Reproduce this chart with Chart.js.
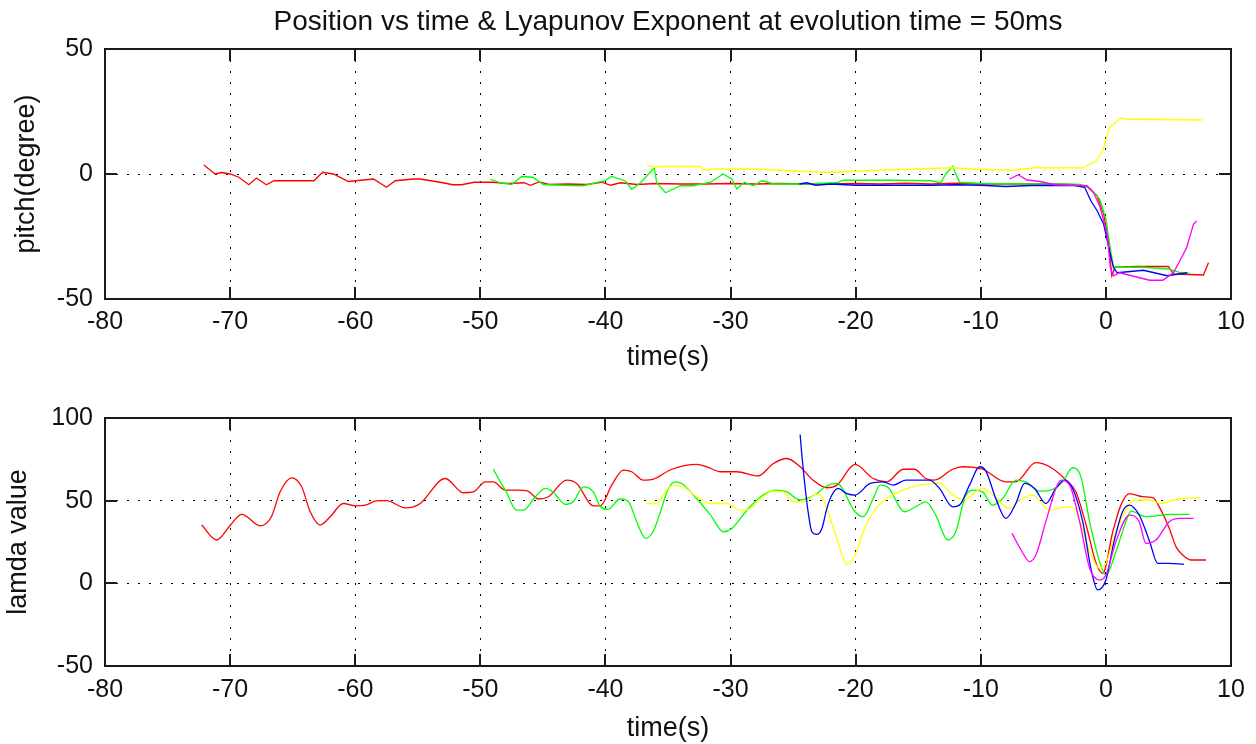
<!DOCTYPE html>
<html><head><meta charset="utf-8">
<script src="https://cdn.jsdelivr.net/npm/chart.js@4.4.1/dist/chart.umd.min.js"></script>
<style>
html,body{margin:0;padding:0;background:#fff;}
#wrap{position:relative;width:1256px;height:744px;overflow:hidden;background:#fff}
#c1{position:absolute;left:0;top:0;}
#c2{position:absolute;left:0;top:380px;}
</style></head><body>
<div id="wrap"><canvas id="c1" width="1256" height="380"></canvas><canvas id="c2" width="1256" height="364"></canvas></div>
<script>
// ---------- DATA ----------
const titleText = 'Position vs time & Lyapunov Exponent at evolution time = 50ms';
const xTicks = [-80,-70,-60,-50,-40,-30,-20,-10,0,10];
const pitchTicks = [-50,0,50];
const lamdaTicks = [-50,0,50,100];

// pitch (degree) vs time (s): [t, value]
const pitchRed = [[-72.1,3.6],[-71.7,2],[-71.2,0],[-70.7,0.6],[-70.0,0],[-69.3,-1.3],[-68.5,-4.3],[-67.9,-1.6],[-67.1,-4.3],[-66.5,-2.7],[-63.3,-2.7],[-62.6,0.7],[-61.75,0],[-60.55,-3],[-58.55,-2],[-57.5,-5.3],[-56.8,-2.7],[-55.35,-2],[-54.8,-2],[-53.0,-3.5],[-52.2,-4.3],[-51.5,-4.3],[-50.5,-3.3],[-49,-3.3],[-47.8,-3.8],[-46.5,-3.5],[-46.0,-4.5],[-45.3,-3.2],[-44.5,-4.2],[-43,-4],[-41.5,-4.2],[-40.3,-3.3],[-39.6,-4.5],[-38.8,-3.5],[-37.5,-4.2],[-36,-3.8],[-34,-4],[-32,-4],[-30,-3.8],[-28,-4],[-26,-3.8],[-24,-4],[-22,-4],[-20,-3.8],[-18,-4],[-16,-3.7],[-14,-4],[-12,-3.7],[-10,-4],[-8,-4],[-6,-4],[-4,-4],[-2.3,-4.3],[-1.5,-5],[-0.7,-8.7],[-0.18,-16],[0.2,-26.7],[0.47,-40.7],[0.75,-37.3],[2.5,-37],[5.0,-37],[5.4,-40],[7.8,-40.4],[8.2,-35.5]];
const pitchGreen = [[-49.2,-2.1],[-48.4,-3.5],[-47.5,-4.2],[-46.7,-1],[-45.8,-1.3],[-44.96,-4.2],[-43.5,-4.5],[-41.8,-4.7],[-40.1,-2.8],[-39.5,-1],[-38.4,-2.8],[-37.9,-6.1],[-37.2,-3.5],[-36.4,0.8],[-36.1,2.5],[-35.9,-3.5],[-35.2,-7.5],[-34,-4.7],[-33,-4.7],[-31.6,-3.3],[-30.6,0],[-29.9,-2],[-29.5,-6],[-28.9,-3.3],[-28.2,-4.7],[-27.5,-2.7],[-26.5,-4],[-24,-4],[-21.5,-3.5],[-21,-2.5],[-17,-2.5],[-14,-2.7],[-13.2,-3.5],[-12.8,0],[-12.25,3],[-11.7,-3.3],[-10,-3.8],[-7,-4],[-4,-4],[-2,-4.2],[-1.2,-6],[-0.5,-10],[0,-18],[0.3,-28],[0.6,-37.3],[3,-37.3],[5,-38],[6,-39.5],[6.7,-39.8]];
const pitchYellow = [[-36.7,3.5],[-36.1,2.6],[-35.8,3],[-32.4,3],[-32.2,1.5],[-31.3,2],[-28,2],[-25,1.2],[-22.8,0.7],[-21.6,0.7],[-18.4,1.5],[-12.25,2.5],[-10.4,1.9],[-7.5,1.5],[-5.6,2.5],[-1.85,2.5],[-0.78,5.2],[-0.25,9.3],[0.28,18.5],[1.2,22.5],[1.6,21.9],[7.7,21.6]];
const pitchBlue = [[-24.5,-4],[-23.9,-3.5],[-23.2,-4.5],[-22,-4],[-20,-4.5],[-17,-4.5],[-14,-4.5],[-12,-4.3],[-10,-4.5],[-8,-5],[-6,-4.6],[-4,-4.6],[-2.5,-4.6],[-1.7,-5.3],[-1.2,-10.7],[-0.7,-14.7],[-0.18,-20],[0.35,-32],[0.6,-37.3],[0.9,-39.5],[3,-38.5],[4.9,-40.7],[6.5,-39.5]];
const pitchMagenta = [[-7.7,-2],[-7,-0.3],[-6.3,-2.4],[-5.3,-3],[-4,-4.3],[-1.5,-4.7],[-0.98,-7.4],[-0.45,-13.4],[0.1,-24],[0.35,-37.3],[0.6,-40.7],[1.1,-39.5],[2.7,-41.5],[3.5,-42.5],[4.55,-42.5],[5.4,-39.5],[5.9,-34.8],[6.45,-29.5],[7,-20.1],[7.25,-18.8]];

// lamda value vs time (s): [t, value]
const lamdaRed = [[-72.27,35.3],[-71.07,26.2],[-70.0,35],[-69.07,41.7],[-67.6,34.8],[-66.7,40.3],[-66.0,55.4],[-65.08,63.8],[-64.28,58.4],[-63.6,43.3],[-62.8,35.3],[-62.0,40.3],[-60.95,48.3],[-60.0,46.9],[-59.1,47.5],[-58.3,49.9],[-57.5,50],[-56.0,45.7],[-55.35,46.3],[-54.8,48.3],[-52.8,63.4],[-51.36,54.8],[-50.56,55.3],[-49.6,61.4],[-48.96,61.4],[-48.0,56.4],[-47.1,56.4],[-46.2,55.8],[-45.36,51],[-44.56,52.4],[-43.1,62.4],[-42.3,60.4],[-40.97,46.9],[-40.4,46.9],[-39.5,59.4],[-38.57,68.5],[-37.9,67.5],[-36.97,62.4],[-36.17,63],[-34.7,69],[-32.7,71.9],[-31.9,70.5],[-30.8,67.5],[-29.5,67.5],[-27.8,65],[-26.57,72.5],[-25.5,75.5],[-24.44,70.5],[-23.4,62.4],[-22.3,57.8],[-21.5,59.4],[-20.05,71.9],[-18.6,63.4],[-17.5,61.4],[-16.2,69],[-15.3,69],[-14.4,63.4],[-13.7,62.4],[-12.25,69],[-11.44,70.5],[-9.85,69],[-8.0,61.4],[-7.2,61.4],[-5.6,73],[-4.5,70.5],[-3.18,62.4],[-2.4,55.4],[-1.58,35.3],[-0.78,12.1],[-0.25,6],[0.55,31.2],[1.2,47.3],[1.88,54.3],[2.94,52.4],[3.74,51.8],[4.4,44.3],[5.07,33.2],[5.6,22.2],[6.14,17.1],[6.8,14.1],[8.0,14.1]];
const lamdaGreen = [[-48.96,69],[-48.4,61.4],[-48,56.4],[-47.1,44.3],[-46.56,44.3],[-45.6,52.4],[-44.8,57.4],[-44.2,55.3],[-43.2,47.7],[-42.56,49.5],[-41.76,58.4],[-40.97,55.3],[-40.4,46.3],[-39.8,44.7],[-38.83,51],[-38.17,49.5],[-37.5,37.3],[-36.8,27.2],[-36.2,31.2],[-35.6,43.3],[-34.97,57.4],[-34.4,61.4],[-33.9,60.4],[-32.97,53.4],[-31.6,41.3],[-30.56,31.2],[-29.9,33.2],[-28.57,45.3],[-27.4,53.4],[-26.3,56.4],[-25.5,55.3],[-24.44,50.4],[-23.1,54.3],[-22.45,58.4],[-21.5,60.4],[-20.05,43.3],[-19.4,40.3],[-18.6,51.3],[-18.05,59.4],[-17.4,58],[-16.1,43.3],[-15.2,46.3],[-14.4,49.3],[-13.6,41.3],[-12.64,26.2],[-12,31.2],[-11.2,53.4],[-10.5,56.4],[-9.85,55.3],[-9.05,47.3],[-8.25,51.3],[-7.2,62.4],[-6.4,61.4],[-5.3,55.8],[-4.4,56.4],[-3.45,61.4],[-2.66,69.9],[-2.0,64.4],[-1.3,37.3],[-0.5,13.1],[0.0,5],[0.8,19.1],[1.6,37.3],[2.0,43.7],[3.2,40.3],[5.07,41.7],[6.7,41.7]];
const lamdaYellow = [[-36.7,48.3],[-36.0,48.3],[-34.7,59],[-34.03,59],[-32.7,52.4],[-31.6,48.3],[-30.3,48.3],[-29.24,44.3],[-28.7,44.3],[-27.6,51.3],[-26.57,55.8],[-25.8,55.3],[-25,49.3],[-24.2,49.3],[-23.1,54],[-22.8,53.4],[-22.3,45.3],[-21.5,27],[-20.7,11.5],[-20.05,17.1],[-19.4,31.2],[-18.6,43],[-17.6,51],[-16.2,56.4],[-14.9,59.4],[-13.3,60.4],[-12.5,55.4],[-11.44,50.4],[-9.85,57.4],[-9.05,53.4],[-7.7,45.3],[-6.9,50.4],[-5.85,53.4],[-4.5,44.3],[-3.18,46.3],[-2.5,45.3],[-1.8,31.2],[-1.2,17.1],[-0.5,9.1],[0.0,12.1],[0.8,31.2],[1.6,44.3],[2.3,50.4],[3.5,50.4],[4.4,48.3],[5.9,51.3],[7.5,51.8]];
const lamdaBlue = [[-24.44,90],[-24.3,77.5],[-24.0,55.4],[-23.8,43.3],[-23.5,31.2],[-23.1,29.6],[-22.7,33.2],[-22.3,45.3],[-21.9,53.4],[-21.4,57.4],[-20.7,54.3],[-20.05,53.4],[-18.85,60.4],[-17.8,61.4],[-17.0,59.4],[-16,62.4],[-14.1,62.4],[-13.3,57.4],[-12.25,46.3],[-11.7,47.3],[-10.9,59.4],[-10.1,70.5],[-9.6,68],[-8.8,51.3],[-8.0,39.3],[-7.2,48.3],[-6.5,60.4],[-5.7,57.4],[-4.8,48.3],[-4.0,57.4],[-3.3,62.4],[-2.66,57.4],[-1.85,37.3],[-1.2,9.1],[-0.66,-4],[0.0,2],[0.65,25.2],[1.33,43.3],[1.88,47.3],[2.66,41.3],[3.5,25.2],[4.14,12.1],[5.07,12.1],[6.25,11.5]];
const lamdaMagenta = [[-7.5,30.2],[-6.7,19.1],[-6.1,13.1],[-5.6,17.1],[-4.8,37.3],[-4.0,57.4],[-3.6,62.4],[-2.9,59.4],[-2.1,37.3],[-1.3,9.1],[-0.5,2],[0.0,5],[0.8,25.2],[1.88,41.3],[2.66,37.3],[3.2,24.2],[4.0,26.2],[5.07,37.3],[5.9,39.3],[7.0,39.3]];

const seriesColors = ['#ff0000','#00ff00','#ffff00','#0000ff','#ff00ff'];

// ---------- CHARTS ----------
const FONT = "'Liberation Sans', Arial, Helvetica, sans-serif";
const INK = '#111';

const framePlugin = {
  id: 'frame',
  afterDraw(chart) {
    const {ctx, chartArea: a, scales: {x, y}} = chart;
    const L = 12;
    ctx.save();
    ctx.setLineDash([]);
    ctx.strokeStyle = '#1a1a1a';
    ctx.lineWidth = 2;
    ctx.strokeRect(a.left, a.top, a.right - a.left, a.bottom - a.top);
    ctx.beginPath();
    x.ticks.forEach(t => {
      const p = Math.round(x.getPixelForValue(t.value));
      ctx.moveTo(p, a.bottom); ctx.lineTo(p, a.bottom - L);
      ctx.moveTo(p, a.top); ctx.lineTo(p, a.top + L);
    });
    y.ticks.forEach(t => {
      const p = Math.round(y.getPixelForValue(t.value));
      ctx.moveTo(a.left, p); ctx.lineTo(a.left + L, p);
      ctx.moveTo(a.right, p); ctx.lineTo(a.right - L, p);
    });
    ctx.stroke();
    ctx.restore();
  }
};

function toXY(arr) { return arr.map(([t, v]) => ({x: t, y: v})); }

function makeChart(canvas, cfg) {
  const datasets = cfg.series.map((s, i) => ({
    data: toXY(s),
    borderColor: seriesColors[i],
    borderWidth: 1.3,
    pointRadius: 0,
    fill: false,
    tension: 0,
    cubicInterpolationMode: cfg.smooth ? 'monotone' : 'default',
    order: cfg.series.length - i
  }));
  return new Chart(canvas, {
    type: 'line',
    data: {datasets},
    plugins: [framePlugin],
    options: {
      responsive: false,
      animation: false,
      events: [],
      layout: {padding: {left: 0, right: 25, top: cfg.padTop, bottom: 0}},
      plugins: {
        legend: {display: false},
        tooltip: {enabled: false},
        title: cfg.title ? {
          display: true, text: cfg.title, color: INK, fullSize: false,
          font: {family: FONT, size: 28, weight: 'normal', lineHeight: 1.2},
          padding: {top: 5, bottom: 10.4}
        } : {display: false}
      },
      scales: {
        x: {
          type: 'linear', min: -80, max: 10,
          afterBuildTicks(scale) { scale.ticks = xTicks.map(v => ({value: v})); },
          afterFit(scale) { scale.height = cfg.xAxisH; },
          grid: {color: '#000', lineWidth: 1, drawTicks: false},
          border: {display: false, dash: [2, 9]},
          ticks: {color: INK, padding: cfg.xTickPad, font: {family: FONT, size: 25}, maxRotation: 0, autoSkip: false},
          title: {display: true, text: 'time(s)', color: INK, font: {family: FONT, size: 27, lineHeight: 1}, padding: {top: 0, bottom: cfg.xTitlePad}}
        },
        y: {
          type: 'linear', min: cfg.yTicks[0], max: cfg.yTicks[cfg.yTicks.length - 1],
          afterBuildTicks(scale) { scale.ticks = cfg.yTicks.map(v => ({value: v})); },
          afterFit(scale) { scale.width = 105; },
          grid: {color: '#000', lineWidth: 1, drawTicks: false},
          border: {display: false, dash: [2, 9]},
          ticks: {color: INK, padding: 12, font: {family: FONT, size: 25}, autoSkip: false},
          title: {display: true, text: cfg.yTitle, color: INK, font: {family: FONT, size: 27, lineHeight: 1}, padding: {top: cfg.yTitlePad, bottom: 0}}
        }
      }
    }
  });
}

makeChart(document.getElementById('c1'), {
  series: [pitchRed, pitchGreen, pitchYellow, pitchBlue, pitchMagenta],
  yTicks: pitchTicks, yTitle: 'pitch(degree)', title: titleText,
  padTop: 0, xAxisH: 81, xTickPad: 8, xTitlePad: 8.5, yTitlePad: 13, smooth: false
});
makeChart(document.getElementById('c2'), {
  series: [lamdaRed, lamdaGreen, lamdaYellow, lamdaBlue, lamdaMagenta],
  yTicks: lamdaTicks, yTitle: 'lamda value', title: null,
  padTop: 38, xAxisH: 78, xTickPad: 9, xTitlePad: 1.5, yTitlePad: 5, smooth: true
});
</script>
</body></html>
